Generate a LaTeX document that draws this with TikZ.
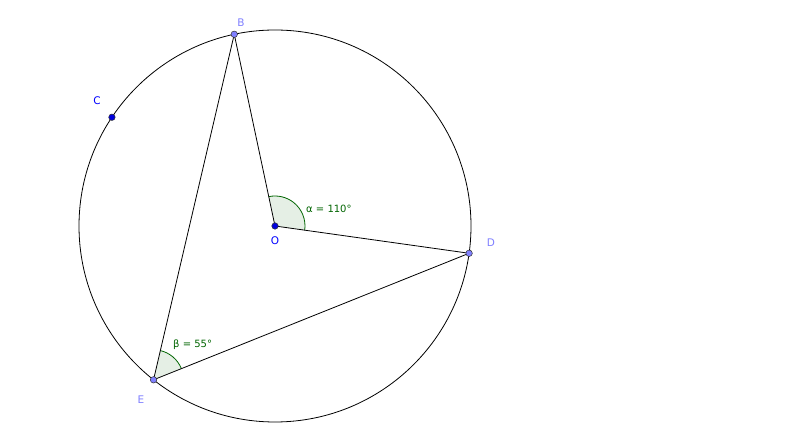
\documentclass[tikz,border=0pt]{standalone}
\usepackage{fontspec}
\setmainfont{DejaVu Sans}
\usetikzlibrary{angles,calc}
\definecolor{ggreen}{RGB}{0,100,0}
\definecolor{lightpt}{RGB}{128,128,255}
\definecolor{darkpt}{RGB}{0,0,220}
\definecolor{lightlbl}{RGB}{128,128,255}
\definecolor{darklbl}{RGB}{0,0,255}
\tikzset{
  seg/.style={draw=black, line width=0.8pt},
  ptlight/.style={circle, draw=black!80, line width=0.5pt, fill=lightpt, inner sep=0pt, minimum size=6.5pt},
  ptdark/.style={circle, draw=black!80, line width=0.5pt, fill=darkpt, inner sep=0pt, minimum size=6.5pt},
  lbllight/.style={text=lightlbl, font=\fontsize{10.5}{12}\selectfont, inner sep=0pt},
  lbldark/.style={text=darklbl, font=\fontsize{10.5}{12}\selectfont, inner sep=0pt},
  anglbl/.style={text=ggreen, font=\fontsize{10}{12}\selectfont, inner sep=0pt, anchor=west},
  angmark/.style={draw=ggreen, line width=0.8pt, fill=ggreen, fill opacity=0.1, angle radius=30pt}
}
\begin{document}
\begin{tikzpicture}[x=1pt,y=1pt]
\useasboundingbox (0,0) rectangle (800,430);
\coordinate (O) at (275,204);
\coordinate (B) at ($(O)+(102:196)$);
\coordinate (D) at ($(O)+(-8:196)$);
\coordinate (E) at ($(O)+(231.7:196)$);
\coordinate (C) at ($(O)+(146.3:196)$);
% angle marks
\pic[angmark] {angle = D--O--B};
\pic[angmark] {angle = D--E--B};
% circle
\draw[seg] (O) circle (196);
% segments
\draw[seg] (O) -- (B);
\draw[seg] (O) -- (D);
\draw[seg] (E) -- (B);
\draw[seg] (E) -- (D);
% points
\node[ptlight] (pB) at (B) {};
\node[ptlight] (pD) at (D) {};
\node[ptlight] (pE) at (E) {};
\node[ptdark] (pO) at (O) {};
\node[ptdark] (pC) at (C) {};
% labels
\node[lbllight] (lB) at (241,407) {B};
\node[lbllight] (lD) at (491,187) {D};
\node[lbllight] (lE) at (141,30) {E};
\node[lbldark] (lO) at (275,189) {O};
\node[lbldark] (lC) at (97,329) {C};
\node[anglbl] (la) at (306,221) {α = 110°};
\node[anglbl] (lb) at (173,85) {β = 55°};
\end{tikzpicture}
\end{document}
